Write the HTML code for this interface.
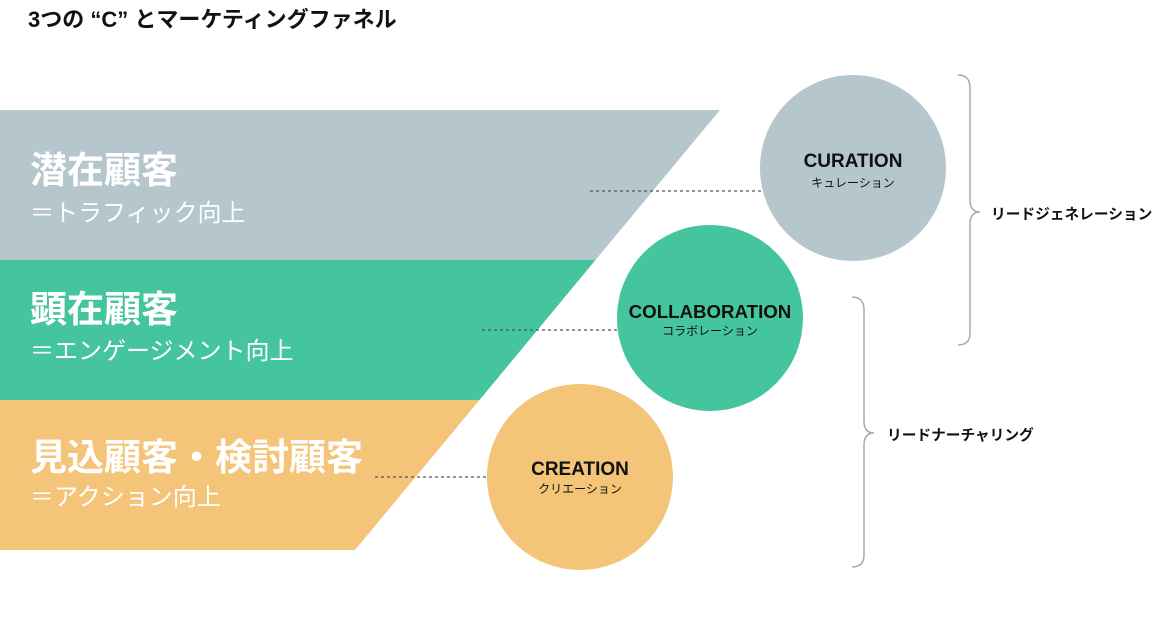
<!DOCTYPE html>
<html><head><meta charset="utf-8"><style>
body{margin:0;width:1164px;height:618px;background:#fff;overflow:hidden;position:relative;font-family:"Liberation Sans","Noto Sans CJK JP",sans-serif}
.t{position:absolute;white-space:nowrap}
</style></head><body>
<svg width="1164" height="618" style="position:absolute;left:0;top:0">
<polygon points="0,110 720,110 595.5,260 0,260" fill="#b5c6cc"/>
<polygon points="0,260 595.5,260 479.5,400 0,400" fill="#45c59d"/>
<polygon points="0,400 479.5,400 355,550 0,550" fill="#f4c478"/>
<g stroke="#555" stroke-width="1.3" stroke-dasharray="3,3">
<line x1="590" y1="191" x2="762" y2="191"/>
<line x1="482" y1="330" x2="618" y2="330"/>
<line x1="375" y1="477" x2="487" y2="477"/>
</g>
<circle cx="853" cy="168" r="93" fill="#b5c6cc"/>
<circle cx="710" cy="318" r="93" fill="#45c59d"/>
<circle cx="580" cy="477" r="93" fill="#f4c478"/>
<g fill="none" stroke="#aaa" stroke-width="1.5">
<path d="M958,75 Q970,75 970,88 L970,200 Q970,212 980,212 Q970,212 970,224 L970,333 Q970,345 958,345"/>
<path d="M852,297 Q864,297 864,310 L864,421 Q864,433 874,433 Q864,433 864,445 L864,555 Q864,567 852,567"/>
</g>
</svg>
<div class="t" style="left:28px;top:2px;font-size:22px;font-weight:bold;color:#111">3つの “C” とマーケティングファネル</div>
<div class="t" style="left:30px;top:140px;font-size:37px;font-weight:bold;color:#fff">潜在顧客</div>
<div class="t" style="left:30px;top:193px;font-size:24px;color:#fff">＝トラフィック向上</div>
<div class="t" style="left:30px;top:279px;font-size:37px;font-weight:bold;color:#fff">顕在顧客</div>
<div class="t" style="left:30px;top:331px;font-size:24px;color:#fff">＝エンゲージメント向上</div>
<div class="t" style="left:30px;top:427px;font-size:37px;font-weight:bold;color:#fff">見込顧客・検討顧客</div>
<div class="t" style="left:30px;top:477px;font-size:24px;color:#fff">＝アクション向上</div>
<div class="t" style="left:740px;width:226px;top:151px;text-align:center;font-size:19px;font-weight:bold;color:#111">CURATION</div>
<div class="t" style="left:740px;width:226px;top:174px;text-align:center;font-size:12px;color:#111">キュレーション</div>
<div class="t" style="left:597px;width:226px;top:301px;text-align:center;font-size:18.7px;font-weight:bold;color:#111">COLLABORATION</div>
<div class="t" style="left:597px;width:226px;top:322px;text-align:center;font-size:12px;color:#111">コラボレーション</div>
<div class="t" style="left:467px;width:226px;top:459px;text-align:center;font-size:19px;font-weight:bold;color:#111">CREATION</div>
<div class="t" style="left:467px;width:226px;top:480px;text-align:center;font-size:12px;color:#111">クリエーション</div>
<div class="t" style="left:991px;top:203px;font-size:14.7px;font-weight:bold;color:#111">リードジェネレーション</div>
<div class="t" style="left:887px;top:424px;font-size:14.7px;font-weight:bold;color:#111">リードナーチャリング</div>
</body></html>
